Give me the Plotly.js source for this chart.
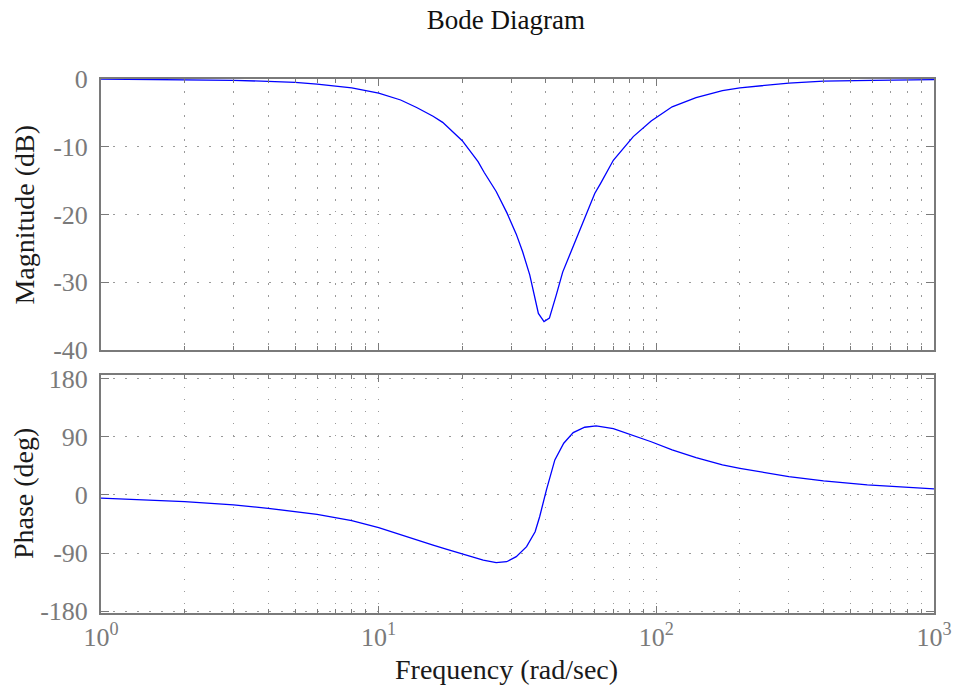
<!DOCTYPE html>
<html>
<head>
<meta charset="utf-8">
<script src="https://cdn.plot.ly/plotly-3.0.1.min.js"></script>
<style>html,body{margin:0;padding:0;background:#fff;}#chart{width:955px;height:690px;}</style>
</head>
<body>
<div id="chart"></div>
<script>
// Magnitude response
var magFreq = [1, 1.5, 2, 3, 4, 5, 6, 7, 8, 10, 12, 13.7, 15.7, 17, 20, 22.8, 24, 26.5, 29, 31.3, 33, 35, 37.6, 39.4, 41.2, 43.6, 46, 48.7, 54.5, 60, 63, 70, 82.6, 95.8, 114, 139, 173, 200, 300, 400, 600, 1000];
var magDb   = [0, -0.05, -0.1, -0.2, -0.35, -0.5, -0.75, -1.0, -1.3, -2.1, -3.1, -4.2, -5.5, -6.4, -9.1, -12.2, -13.8, -16.6, -19.8, -22.9, -25.5, -28.9, -34.6, -35.8, -35.3, -31.9, -28.5, -26.0, -21.1, -16.9, -15.4, -12.0, -8.5, -6.2, -4.1, -2.75, -1.7, -1.3, -0.6, -0.3, -0.2, -0.1];

// Phase response
var phaseFreq = [1, 2, 3, 4, 6, 8, 10, 11.9, 13.7, 15.7, 17.5, 20, 23.8, 26.5, 28.9, 31.3, 34.1, 36.6, 38, 40.2, 43.1, 46.4, 50.2, 55.2, 60.7, 70, 82.6, 95.8, 114, 139, 173, 200, 300, 400, 575, 1000];
var phaseDeg  = [-5, -10.3, -15.5, -20.7, -30, -39.8, -50.5, -60.5, -69.8, -77.6, -84, -91.6, -100.9, -105, -103.5, -95.7, -80.2, -57, -33.7, 7.8, 54.3, 80.2, 96.7, 105, 107, 103, 92.5, 82.5, 69.8, 57.9, 46.6, 41.4, 28.4, 21.7, 15.5, 9.3];

// Tick labels and texts
var xTickVals = [1, 10, 100, 1000];
var xTickText = ['10<sup>0</sup>', '10<sup>1</sup>', '10<sup>2</sup>', '10<sup>3</sup>'];
var magTicks = [-40, -30, -20, -10, 0];
var phaseTicks = [-180, -90, 0, 90, 180];
var titleText = 'Bode Diagram';
var magLabel = 'Magnitude (dB)';
var phaseLabel = 'Phase (deg)';
var freqLabel = 'Frequency (rad/sec)';

var minorVals = [];
for (var d = 1; d <= 100; d *= 10) {
  for (var k = 2; k <= 9; k++) minorVals.push(k * d);
}

var FONT = 'Liberation Serif, DejaVu Serif, serif';
var AXC = '#7a7a7a';
var GRIDC = '#9a9a9a';
var DASH = '1.5px,10.5px';
var TXT = '#1a1a1a';

var xCommon = {
  type: 'log',
  range: [0, 3],
  tickmode: 'array',
  tickvals: xTickVals,
  ticktext: xTickText,
  ticks: 'inside',
  ticklen: 7,
  tickwidth: 1,
  tickcolor: AXC,
  showline: true,
  linecolor: AXC,
  linewidth: 2,
  mirror: 'allticks',
  showgrid: true,
  gridcolor: GRIDC,
  griddash: DASH,
  gridwidth: 1,
  zeroline: false,
  tickfont: {family: FONT, size: 26, color: AXC},
  minor: {tickmode: 'array', tickvals: minorVals, ticks: 'inside', ticklen: 4, tickcolor: AXC, showgrid: true, gridcolor: GRIDC, griddash: DASH, gridwidth: 1}
};

function yAxis(range, ticks, domain) {
  return {
    range: range,
    domain: domain,
    tickmode: 'array',
    tickvals: ticks,
    ticktext: ticks.map(String),
    ticks: 'inside',
    ticklen: 8,
    tickwidth: 1,
    tickcolor: AXC,
    showline: true,
    linecolor: AXC,
    linewidth: 2,
    mirror: 'allticks',
    showgrid: true,
    gridcolor: GRIDC,
    griddash: DASH,
    gridwidth: 1,
    zeroline: false,
    ticklabelstandoff: 6,
    tickfont: {family: FONT, size: 26, color: AXC}
  };
}

var traces = [
  {x: magFreq, y: magDb, xaxis: 'x', yaxis: 'y', mode: 'lines', line: {color: '#0000ff', width: 1.3}, hoverinfo: 'skip'},
  {x: phaseFreq, y: phaseDeg, xaxis: 'x2', yaxis: 'y2', mode: 'lines', line: {color: '#0000ff', width: 1.3}, hoverinfo: 'skip'}
];

var xTop = Object.assign({}, xCommon, {anchor: 'y', showticklabels: false, matches: 'x2'});
var xBot = Object.assign({}, xCommon, {anchor: 'y2'});

var magDom = [0.4925, 1];
var phDom = [0, 0.4457];

var layout = {
  width: 955,
  height: 690,
  margin: {l: 101, r: 21, t: 79, b: 77},
  paper_bgcolor: '#fff',
  plot_bgcolor: '#fff',
  showlegend: false,
  title: {text: titleText, font: {family: FONT, size: 27, color: '#111'}, xref: 'container', x: 0.5298, xanchor: 'center', yref: 'container', y: 0.971, yanchor: 'middle'},
  xaxis: xTop,
  xaxis2: xBot,
  yaxis: yAxis([-40, 0], magTicks, magDom),
  yaxis2: yAxis([-183, 186], phaseTicks, phDom),
  annotations: [
    {text: magLabel, xref: 'paper', yref: 'paper', x: -0.0924, y: (magDom[0] + magDom[1]) / 2, xanchor: 'center', yanchor: 'middle', textangle: -90, showarrow: false, font: {family: FONT, size: 28, color: TXT}},
    {text: phaseLabel, xref: 'paper', yref: 'paper', x: -0.0924, y: (phDom[0] + phDom[1]) / 2, xanchor: 'center', yanchor: 'middle', textangle: -90, showarrow: false, font: {family: FONT, size: 28, color: TXT}},
    {text: freqLabel, xref: 'paper', yref: 'paper', x: 0.4862, y: -0.1067, xanchor: 'center', yanchor: 'middle', showarrow: false, font: {family: FONT, size: 28, color: TXT}}
  ]
};

Plotly.newPlot('chart', traces, layout, {displayModeBar: false, staticPlot: true});
</script>
</body>
</html>
